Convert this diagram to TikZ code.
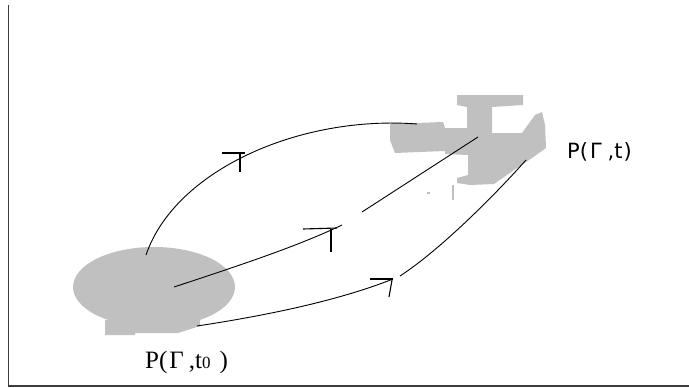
\documentclass[tikz,border=0pt]{standalone}
\usepackage{fontspec}
\setmainfont{Liberation Serif}
\newfontfamily\sansf{DejaVu Sans}
\definecolor{blobgray}{RGB}{192,192,192}
\definecolor{framegray}{RGB}{60,60,60}
\tikzset{
  flow/.style={draw=black, line width=0.9pt},
  tick/.style={draw=black, line width=1.1pt},
  region/.style={fill=blobgray, draw=none},
  axisline/.style={draw=framegray, line width=1.8pt},
  lbl/.style={anchor=base west, inner sep=0pt, text=black}
}
\begin{document}
\begin{tikzpicture}[x=1pt,y=-1pt]
\useasboundingbox (0,0) rectangle (689,388);
% frame (axes)
\coordinate (ftop) at (8.5,5);
\coordinate (forigin) at (8.5,386);
\coordinate (fright) at (689,386);
\draw[axisline] (ftop) -- (forigin) -- (fright);

% initial region
\fill[region] (154,287) ellipse [x radius=81pt, y radius=40pt];
\fill[region] (105,320) -- (105,335) -- (135,335) -- (135,333) -- (178,333) -- (200,326) -- (200,316) -- cycle;

% final region
\fill[region] (390,124) -- (443,122) -- (445,128) -- (467,128) -- (467,107) -- (457,105) -- (457,95)
  -- (523,95) -- (523,105) -- (492,107) -- (492,133) -- (522,133) -- (535,115) -- (542,112)
  -- (545,125) -- (546,148) -- (532,158) -- (514,170) -- (494,184) -- (470,185) -- (457,183)
  -- (457,178) -- (468,175) -- (468,155) -- (445,154) -- (445,151) -- (395,153) -- (390,140) -- cycle;
\fill[region] (452.3,185) rectangle (453.8,200);
\fill[region] (427,192) rectangle (430,194);

% labels
\node[lbl] (lblt) at (567,158) {\sansf\fontsize{21}{25}\selectfont P(\hspace{2pt}Γ\hspace{6pt},t\hspace{1pt})};
\node[lbl] (lblz) at (145,368) {\fontsize{25}{29}\selectfont P(\hspace{2pt}Γ\hspace{5pt},t{\fontsize{17}{17}\selectfont 0}\hspace{9pt})};

% trajectory end points
\coordinate (s1) at (146,255);
\coordinate (e1) at (417,124);
\coordinate (s2) at (174,287);
\coordinate (m2a) at (342,225);
\coordinate (m2b) at (362,212);
\coordinate (e2) at (478,137);
\coordinate (s3) at (197,326);
\coordinate (m3a) at (393,279);
\coordinate (m3b) at (400,276);
\coordinate (e3) at (526,160);

% trajectories
\draw[flow] (s1) .. controls (175,170) and (300,115) .. (e1);
\draw[flow] (s2) .. controls (250,262) and (300,245) .. (m2a);
\draw[flow] (m2b) -- (e2);
\draw[flow] (s3) .. controls (270,315) and (340,300) .. (m3a);
\draw[flow] (m3b) .. controls (440,250) and (495,195) .. (e3);

% arrow marks
\coordinate (a1l) at (222,153); \coordinate (a1r) at (245,153);
\coordinate (a1t) at (240,153); \coordinate (a1b) at (240,172);
\draw[tick] (a1l) -- (a1r); \draw[tick] (a1t) -- (a1b);
\coordinate (a2l) at (303,229); \coordinate (a2r) at (337,228);
\coordinate (a2t) at (331,229); \coordinate (a2b) at (331,252);
\draw[tick] (a2l) -- (a2r); \draw[tick] (a2t) -- (a2b);
\coordinate (a3l) at (370,279); \coordinate (a3r) at (393,279);
\coordinate (a3t) at (392,280); \coordinate (a3b) at (389,297);
\draw[tick] (a3l) -- (a3r); \draw[tick] (a3t) -- (a3b);
\end{tikzpicture}
\end{document}
